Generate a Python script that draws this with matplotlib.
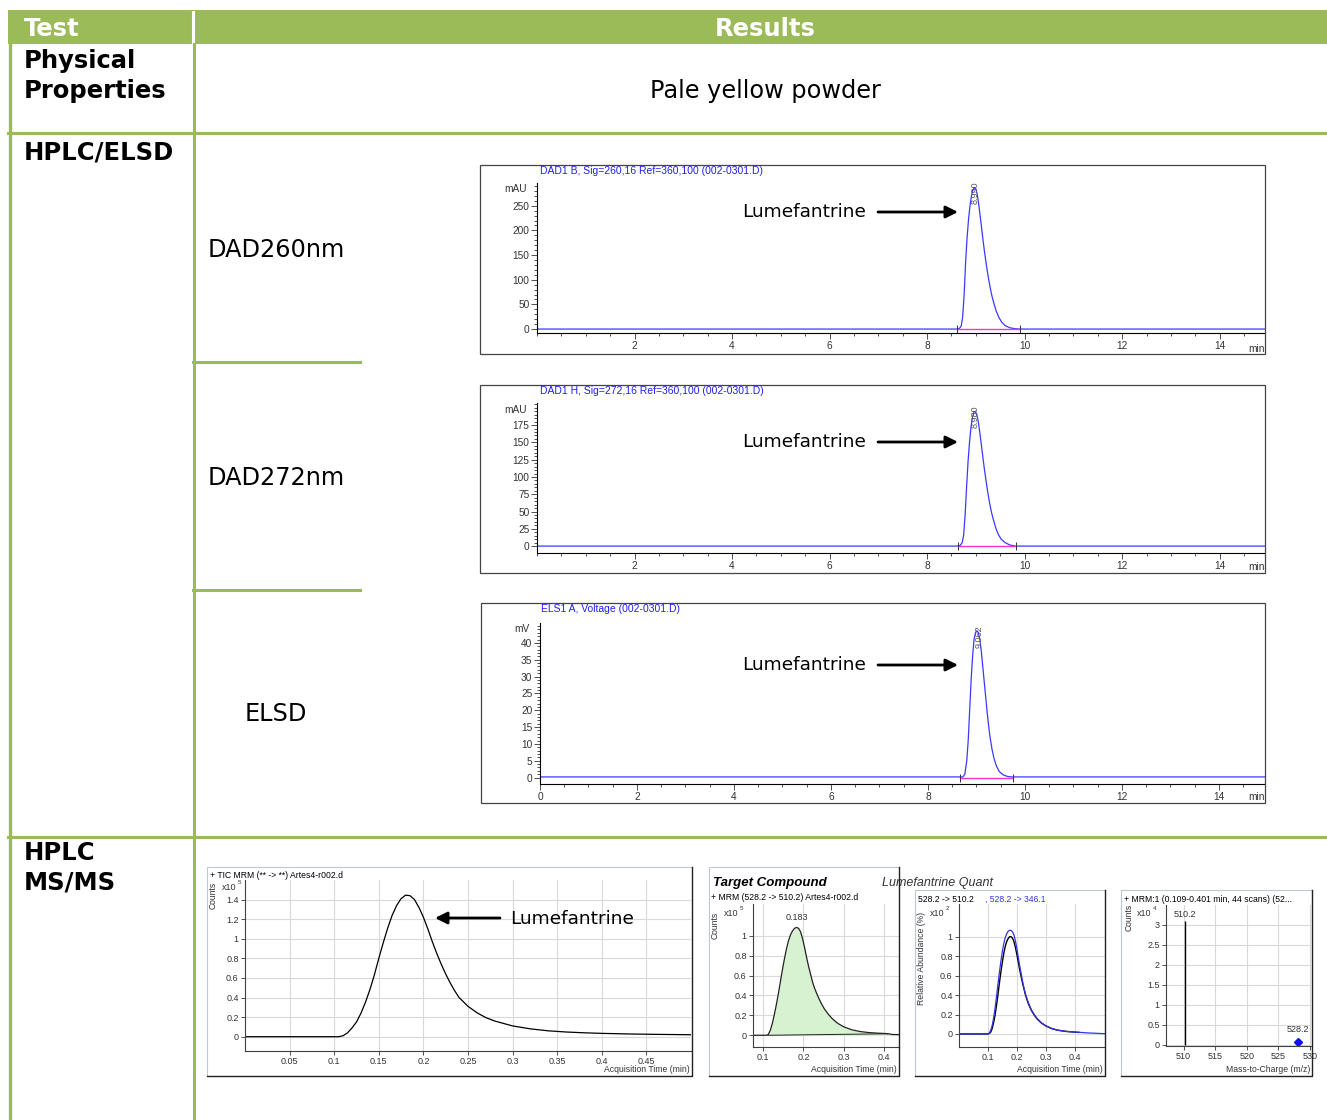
import matplotlib
matplotlib.use('Agg')
import matplotlib.pyplot as plt
from matplotlib.patches import Rectangle
from matplotlib.ticker import MultipleLocator, FuncFormatter

# ---- data ----
# HPLC / DAD 260 nm  (time min, mAU)
dad260_t = [0, 8.60, 8.66, 8.70, 8.73, 8.76, 8.79, 8.82, 8.85, 8.88, 8.91, 8.94, 8.97, 9.00, 9.03, 9.06,
            9.09, 9.12, 9.15, 9.18, 9.21, 9.25, 9.29, 9.33, 9.37, 9.42, 9.47, 9.53, 9.60, 9.70, 9.80, 9.90, 14.95]
dad260_v = [0, 0, 1, 6, 25, 70, 135, 185, 222, 250, 270, 282, 287, 284, 272, 252,
            228, 203, 178, 155, 134, 108, 86, 67, 52, 36, 24, 14, 7, 2.5, 0.8, 0, 0]
# HPLC / DAD 272 nm
dad272_t = [0, 8.62, 8.68, 8.72, 8.75, 8.78, 8.81, 8.84, 8.87, 8.90, 8.93, 8.96, 8.99, 9.02, 9.05, 9.08,
            9.11, 9.14, 9.17, 9.20, 9.24, 9.28, 9.32, 9.36, 9.41, 9.46, 9.52, 9.60, 9.70, 9.82, 14.95]
dad272_v = [0, 0, 1, 5, 16, 45, 85, 122, 150, 172, 186, 194, 195, 190, 180, 165,
            148, 131, 114, 99, 80, 63, 49, 38, 26, 17, 10, 5, 1.5, 0, 0]
# ELSD (time min, mV)
elsd_t = [0, 8.72, 8.76, 8.80, 8.83, 8.86, 8.89, 8.92, 8.95, 8.98, 9.01, 9.04, 9.07, 9.10, 9.13, 9.16,
          9.19, 9.22, 9.25, 9.28, 9.32, 9.36, 9.41, 9.47, 9.55, 9.65, 9.74, 14.95]
elsd_v = [0.2, 0.2, 1, 5, 11, 20, 29, 36, 41, 43, 43.6, 43, 41, 37.5, 33, 28.5,
          24, 19.5, 15.5, 12, 8.5, 5.8, 3.5, 1.8, 0.8, 0.3, 0.2, 0.2]

rt_labels = ["8.990", "8.980", "9.062"]
integ_start = [8.62, 8.64, 8.66]
integ_end = [9.90, 9.82, 9.76]

# MS/MS TIC (min, counts x10^5)
tic_t = [0, 0.105, 0.110, 0.115, 0.120, 0.125, 0.130, 0.135, 0.140, 0.145, 0.150, 0.155, 0.160, 0.165, 0.170,
         0.175, 0.180, 0.185, 0.190, 0.195, 0.200, 0.205, 0.210, 0.215, 0.220, 0.225, 0.230, 0.235, 0.240,
         0.250, 0.260, 0.270, 0.280, 0.290, 0.300, 0.320, 0.340, 0.360, 0.380, 0.400, 0.430, 0.460, 0.500]
tic_v = [0, 0, 0.01, 0.04, 0.09, 0.15, 0.24, 0.35, 0.48, 0.63, 0.80, 0.96, 1.11, 1.24, 1.34,
         1.41, 1.445, 1.44, 1.40, 1.32, 1.22, 1.10, 0.97, 0.85, 0.74, 0.64, 0.55, 0.47, 0.40,
         0.31, 0.245, 0.195, 0.16, 0.135, 0.11, 0.08, 0.06, 0.048, 0.04, 0.034, 0.028, 0.024, 0.02]
# MRM 528.2 -> 510.2 (min, counts x10^5)
mrm_t = [0.075, 0.110, 0.113, 0.118, 0.123, 0.128, 0.133, 0.138, 0.143, 0.148, 0.153, 0.158, 0.163, 0.168,
         0.173, 0.178, 0.183, 0.188, 0.193, 0.198, 0.203, 0.208, 0.213, 0.218, 0.223, 0.228, 0.235, 0.243,
         0.252, 0.262, 0.272, 0.285, 0.300, 0.320, 0.340, 0.360, 0.380, 0.400, 0.410, 0.420, 0.437]
mrm_v = [0, 0, 0.01, 0.05, 0.12, 0.21, 0.31, 0.42, 0.54, 0.66, 0.77, 0.87, 0.95, 1.01,
         1.05, 1.075, 1.085, 1.075, 1.04, 0.97, 0.88, 0.78, 0.69, 0.61, 0.53, 0.47, 0.40, 0.33,
         0.265, 0.21, 0.165, 0.12, 0.085, 0.055, 0.038, 0.028, 0.022, 0.018, 0.016, 0.008, 0.007]
mrm_rt = 0.183
# qualifier overlay (min, relative abundance x10^2)
qual_t_black = [0, 0.100, 0.105, 0.110, 0.115, 0.120, 0.125, 0.130, 0.135, 0.140, 0.145, 0.150, 0.155, 0.160,
                0.165, 0.170, 0.175, 0.180, 0.185, 0.190, 0.195, 0.200, 0.205, 0.210, 0.215, 0.220, 0.225,
                0.230, 0.240, 0.250, 0.260, 0.270, 0.285, 0.300, 0.320, 0.340, 0.370, 0.400, 0.415]
qual_v_black = [0, 0, 0.005, 0.02, 0.06, 0.12, 0.20, 0.30, 0.41, 0.53, 0.64, 0.74, 0.83, 0.90,
                0.95, 0.98, 1.0, 1.0, 0.985, 0.95, 0.89, 0.82, 0.74, 0.66, 0.59, 0.52, 0.46,
                0.40, 0.31, 0.245, 0.195, 0.155, 0.112, 0.083, 0.056, 0.039, 0.026, 0.019, 0.016]
qual_t_blue = [0, 0.100, 0.105, 0.110, 0.115, 0.120, 0.125, 0.130, 0.135, 0.140, 0.145, 0.150, 0.155, 0.160,
               0.165, 0.170, 0.175, 0.180, 0.185, 0.190, 0.195, 0.200, 0.205, 0.210, 0.215, 0.220, 0.225,
               0.230, 0.240, 0.250, 0.260, 0.270, 0.285, 0.300, 0.320, 0.340, 0.370, 0.400, 0.415, 0.450, 0.505]
qual_v_blue = [0, 0, 0.01, 0.04, 0.09, 0.17, 0.27, 0.39, 0.52, 0.64, 0.75, 0.85, 0.93, 0.99,
               1.03, 1.055, 1.065, 1.065, 1.05, 1.02, 0.96, 0.88, 0.79, 0.70, 0.62, 0.54, 0.47,
               0.41, 0.32, 0.25, 0.20, 0.16, 0.115, 0.085, 0.058, 0.04, 0.027, 0.02, 0.017, 0.01, 0.003]
# spectrum (m/z, counts x10^4)
ms_mz = [510.2, 528.2]
ms_counts = [3.1, 0.08]

GREEN = '#9BBB59'
BLUE = '#3a3aff'
SMALL = 'Liberation Sans'
W, H = 1327, 1120

fig = plt.figure(figsize=(W / 100, H / 100), dpi=100)


def px_axes(x0, y0, x1, y1):
    return fig.add_axes([x0 / W, 1 - y1 / H, (x1 - x0) / W, (y1 - y0) / H])


def g_fmt(v, pos):
    return '%g' % v


def hplc(box, xlim, ylim, t, v, ymaj, ymin, ytop, xt, i):
    ax = px_axes(*box)
    ax.plot(t, v, color=BLUE, lw=0.9)
    ax.plot([integ_start[i], integ_end[i]], [0, 0], color='#ff33cc', lw=1.0)
    d = (ylim[1] - ylim[0]) * 0.025
    ax.vlines([integ_start[i], integ_end[i]], -d, d, color='#333333', lw=0.7)
    ax.text(float(rt_labels[i]), max(v) * 0.96, rt_labels[i], rotation=90, ha='center', va='center',
            fontsize=6.5, color='#555555', family=SMALL, clip_on=False)
    ax.set_xlim(*xlim)
    for s in ['top', 'right']:
        ax.spines[s].set_visible(False)
    ax.set_xticks(xt)
    ax.xaxis.set_minor_locator(MultipleLocator(0.5))
    ax.set_yticks([k * ymaj for k in range(int(ytop / ymaj) + 1)])
    ax.set_yticks([k * ymin for k in range(int(ylim[1] / ymin) + 1)], minor=True)
    ax.yaxis.set_major_formatter(FuncFormatter(g_fmt))
    ax.set_ylim(*ylim)
    ax.tick_params(which='both', direction='out', labelsize=7.3, colors='#333333', width=0.6, pad=1.5)
    ax.tick_params(which='major', length=4)
    ax.tick_params(which='minor', length=2.5)
    for lab in ax.get_xticklabels() + ax.get_yticklabels():
        lab.set_family(SMALL)
    ax.patch.set_alpha(0)
    return ax


hplc((537, 183, 1265, 333), (0, 14.93), (-8, 296), dad260_t, dad260_v, 50, 10, 250, range(2, 15, 2), 0)
hplc((537, 403, 1265, 553), (0, 14.93), (-10, 207), dad272_t, dad272_v, 25, 5, 175, range(2, 15, 2), 1)
hplc((540, 623, 1265, 784), (0, 14.95), (-1.9, 45.9), elsd_t, elsd_v, 5, 1, 40, range(0, 15, 2), 2)


def ms_axes(box, xlim, ylim, xt, yt):
    ax = px_axes(*box)
    ax.set_xlim(*xlim)
    ax.set_ylim(*ylim)
    ax.set_xticks(xt)
    ax.set_yticks(yt)
    ax.xaxis.set_major_formatter(FuncFormatter(g_fmt))
    ax.yaxis.set_major_formatter(FuncFormatter(g_fmt))
    ax.grid(True, color='#d9d9d9', lw=0.8)
    ax.set_axisbelow(True)
    for s in ['top', 'right']:
        ax.spines[s].set_visible(False)
    for s in ['left', 'bottom']:
        ax.spines[s].set_color('#404040')
        ax.spines[s].set_linewidth(0.8)
    ax.tick_params(direction='out', length=3, labelsize=6.5, colors='#333333', width=0.6, pad=1.5)
    for lab in ax.get_xticklabels() + ax.get_yticklabels():
        lab.set_family(SMALL)
    ax.patch.set_alpha(0)
    return ax


# TIC
ax = ms_axes((245, 880, 691, 1051), (0, 0.5), (-0.146, 1.6),
             [0.05, 0.1, 0.15, 0.2, 0.25, 0.3, 0.35, 0.4, 0.45], [0, 0.2, 0.4, 0.6, 0.8, 1, 1.2, 1.4])
ax.plot(tic_t, tic_v, color='black', lw=0.9)

# MRM with integrated area
ax = ms_axes((753, 904, 899, 1047), (0.075, 0.437), (-0.118, 1.32),
             [0.1, 0.2, 0.3, 0.4], [0, 0.2, 0.4, 0.6, 0.8, 1])
fill_t = [tt for tt in mrm_t if 0.112 <= tt <= 0.41]
fill_v = [vv for tt, vv in zip(mrm_t, mrm_v) if 0.112 <= tt <= 0.41]
ax.fill_between(fill_t, fill_v, 0, color='#d6f2d0', lw=0)
ax.plot(mrm_t, mrm_v, color='#222222', lw=0.9)
ax.plot([fill_t[0], fill_t[-1]], [0, 0.015], color='#222222', lw=0.7)
ax.text(mrm_rt, max(mrm_v) + 0.05, '%.3f' % mrm_rt, ha='center', va='bottom', fontsize=6.5,
        color='#333333', family=SMALL)

# qualifier overlay
ax = ms_axes((959, 904, 1105, 1047), (0, 0.505), (-0.134, 1.336),
             [0.1, 0.2, 0.3, 0.4], [0, 0.2, 0.4, 0.6, 0.8, 1])
ax.plot(qual_t_black, qual_v_black, color='black', lw=1.0)
ax.plot(qual_t_blue, qual_v_blue, color='#3333ee', lw=0.9)

# spectrum
ax = ms_axes((1166, 905, 1311, 1046), (507.2, 530.2), (-0.025, 3.5),
             [510, 515, 520, 525, 530], [0, 0.5, 1, 1.5, 2, 2.5, 3])
ax.vlines(ms_mz[0], 0, ms_counts[0], color='black', lw=1.0)
ax.plot(ms_mz[1], ms_counts[1], marker='D', color='#1010ee', ms=4, clip_on=False)
for mz, c in zip(ms_mz, ms_counts):
    ax.text(mz, c + (0.05 if c > 1 else 0.2), '%g' % mz, ha='center', va='bottom', fontsize=6.5,
            color='#333333', family=SMALL)

# ---- overlay: table grid, texts, chart frames ----
ov = fig.add_axes([0, 0, 1, 1], zorder=10)
ov.set_xlim(0, W)
ov.set_ylim(H, 0)
ov.axis('off')
ov.patch.set_alpha(0)

ov.add_patch(Rectangle((8, 10), W - 8, 34, color=GREEN, lw=0))
ov.plot([193, 193], [12, 44], color='white', lw=2.2)
ov.plot([9.5, 9.5], [44, H], color=GREEN, lw=2.4)
ov.plot([193.5, 193.5], [44, H], color=GREEN, lw=2.2)
for y in [133, 837]:
    ov.plot([8, W], [y, y], color=GREEN, lw=2.2)
for y in [362, 590]:
    ov.plot([193, 360], [y, y], color=GREEN, lw=2.2)

ov.text(24, 29, 'Test', color='white', fontsize=17.5, weight='bold', va='center')
ov.text(765, 29, 'Results', color='white', fontsize=17.5, weight='bold', va='center', ha='center')
ov.text(24, 76, 'Physical\nProperties', fontsize=17.5, weight='bold', va='center', linespacing=1.3)
ov.text(765, 91, 'Pale yellow powder', fontsize=17.3, va='center', ha='center')
ov.text(24, 152, 'HPLC/ELSD', fontsize=17.5, weight='bold', va='center')
ov.text(208, 250, 'DAD260nm', fontsize=17.3, va='center')
ov.text(208, 478, 'DAD272nm', fontsize=17.3, va='center')
ov.text(245, 714, 'ELSD', fontsize=17.3, va='center')
ov.text(24, 868, 'HPLC\nMS/MS', fontsize=17.5, weight='bold', va='center', linespacing=1.3)

# HPLC frames, titles, units
frames = [(480, 165, 1265, 354), (480, 385, 1265, 573), (481, 603, 1265, 803)]
titles = ['DAD1 B, Sig=260,16 Ref=360,100 (002-0301.D)', 'DAD1 H, Sig=272,16 Ref=360,100 (002-0301.D)',
          'ELS1 A, Voltage (002-0301.D)']
units = [('mAU', 516, 189), ('mAU', 516, 410), ('mV', 522, 629)]
arrow_y = [212, 442, 665]
min_y = [349, 567, 797]
for (x0, y0, x1, y1), ttl, (u, ux, uy), ay, my in zip(frames, titles, units, arrow_y, min_y):
    ov.add_patch(Rectangle((x0, y0), x1 - x0, y1 - y0, fill=False, ec='#444444', lw=0.9))
    ov.text(x0 + 60, y0 + 6, ttl, color='#2020ee', fontsize=7.5, family=SMALL, va='center')
    ov.text(ux, uy, u, fontsize=7.3, family=SMALL, ha='center', va='center', color='#333333')
    ov.text(1248, my, 'min', fontsize=7.3, family=SMALL, va='center', color='#333333')
    ov.text(742, ay, 'Lumefantrine', fontsize=13.3, va='center')
    ov.annotate('', xy=(958, ay), xytext=(878, ay),
                arrowprops=dict(arrowstyle='-|>', color='black', lw=2, mutation_scale=18, shrinkA=0, shrinkB=0))

# MS frames
ms_frames = [(207, 867, 692, 1076), (709, 867, 899, 1076), (915, 890, 1105, 1076), (1121, 890, 1312, 1076)]
for x0, y0, x1, y1 in ms_frames:
    ov.plot([x0, x0, x1], [y1, y0, y0], color='#c0c8d0', lw=0.8)
    ov.plot([x0, x1, x1], [y1, y1, y0], color='#222222', lw=1.0)

ov.text(210, 875, '+ TIC MRM (** -> **) Artes4-r002.d', fontsize=6.2, family=SMALL, va='center')
ov.text(711, 898, '+ MRM (528.2 -> 510.2) Artes4-r002.d', fontsize=6.2, family=SMALL, va='center')
ov.text(918, 899, '528.2 -> 510.2', fontsize=6.2, family=SMALL, va='center')
ov.text(985, 899, ', 528.2 -> 346.1', fontsize=6.2, family=SMALL, va='center', color='#3333ee')
ov.text(1124, 899, '+ MRM:1 (0.109-0.401 min, 44 scans) (52...', fontsize=6.2, family=SMALL, va='center')
ov.text(713, 883, 'Target Compound', fontsize=9.5, family=SMALL, weight='bold', style='italic', va='center')
ov.text(882, 883, 'Lumefantrine Quant', fontsize=9, family=SMALL, style='italic', va='center', color='#333333')

for x, y, s in [(213, 895, 'Counts'), (715, 925, 'Counts'), (922, 958, 'Relative Abundance (%)'),
                (1129, 917, 'Counts')]:
    ov.text(x, y, s, fontsize=6.2, family=SMALL, rotation=90, ha='center', va='center', color='#333333')
for x, y, e in [(222, 887, '5'), (724, 913, '5'), (930, 913, '2'), (1137, 913, '4')]:
    ov.text(x, y, 'x10', fontsize=6.5, family=SMALL, va='center', color='#333333')
    ov.text(x + 16, y - 4, e, fontsize=4.5, family=SMALL, va='center', color='#333333')
for x, s in [(690, 'Acquisition Time (min)'), (897, 'Acquisition Time (min)'),
             (1103, 'Acquisition Time (min)'), (1310, 'Mass-to-Charge (m/z)')]:
    ov.text(x, 1070, s, fontsize=6.2, family=SMALL, ha='right', va='center', color='#333333')

ov.text(510, 919, 'Lumefantrine', fontsize=13.3, va='center')
ov.annotate('', xy=(435, 918), xytext=(500, 918),
            arrowprops=dict(arrowstyle='-|>', color='black', lw=2, mutation_scale=18, shrinkA=0, shrinkB=0))

fig.savefig('out.png', dpi=100)
